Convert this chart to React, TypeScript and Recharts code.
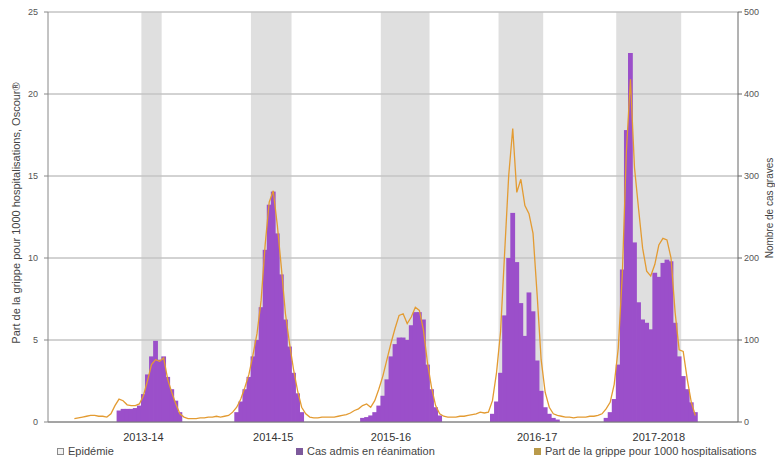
import React from 'react';
import {
  ComposedChart,
  Bar,
  Line,
  XAxis,
  YAxis,
  CartesianGrid,
  ReferenceArea,
} from 'recharts';

// ---- data -------------------------------------------------------------
const N_WEEKS = 170; // weekly slots on the x axis (surveillance weeks, 5 seasons)

const seasonLabels = ['2013-14', '2014-15', '2015-16', '2016-17', '2017-2018'];
const seasonLabelWeeks = [23, 55, 84, 120, 150];

// epidemic periods (week slots)
const epidemicStartWeeks = [23, 50, 82, 111, 140];
const epidemicEndWeeks = [27, 59, 93, 121, 155];

// weekly ICU admissions (right axis), first week slot of each season
const casesStartWeeks = [17, 46, 77, 109, 137];
const cases2013_14 = [14, 16, 16, 16, 17, 20, 34, 58, 80, 99, 76, 80, 55, 40, 26, 12];
const cases2014_15 = [12, 25, 40, 55, 80, 100, 140, 210, 265, 281, 230, 180, 125, 92, 60, 35, 12];
const cases2015_16 = [5, 6, 8, 12, 20, 32, 52, 80, 95, 103, 103, 100, 118, 134, 134, 125, 70, 40, 18, 8];
const cases2016_17 = [10, 25, 60, 130, 200, 255, 195, 145, 105, 158, 135, 75, 38, 18, 10, 5, 3];
const cases2017_18 = [5, 12, 28, 70, 186, 356, 450, 219, 146, 125, 121, 113, 182, 177, 194, 198, 196, 121, 80, 56, 40, 24, 12];

// share of flu per 1000 hospitalisations (left axis), first week slot of each segment
const shareStartWeeks = [6, 34, 64, 97, 126];
const share2013_14 = [0.2, 0.25, 0.3, 0.35, 0.4, 0.4, 0.35, 0.35, 0.3, 0.5, 1.0, 1.4, 1.3, 1.05, 1.0, 1.0, 1.1, 1.6, 2.5, 3.5, 3.8, 3.7, 3.9, 2.6, 1.8, 1.1, 0.5, 0.3];
const share2014_15 = [0.2, 0.2, 0.2, 0.25, 0.25, 0.3, 0.3, 0.35, 0.3, 0.35, 0.4, 0.6, 0.9, 1.4, 2.1, 2.9, 4.1, 5.4, 7.4, 10.8, 13.4, 14.1, 12.0, 9.4, 6.6, 4.8, 3.2, 1.9, 0.9, 0.5];
const share2015_16 = [0.3, 0.25, 0.25, 0.3, 0.3, 0.3, 0.3, 0.35, 0.4, 0.45, 0.55, 0.7, 0.8, 1.0, 1.1, 0.9, 1.3, 2.0, 2.8, 3.8, 4.8, 5.7, 6.5, 6.6, 6.0, 6.4, 7.0, 6.8, 5.6, 3.6, 2.1, 1.0, 0.5];
const share2016_17 = [0.35, 0.3, 0.3, 0.3, 0.35, 0.35, 0.4, 0.45, 0.5, 0.6, 0.55, 0.6, 1.3, 3.0, 5.5, 10.3, 15.0, 17.9, 14.0, 14.8, 13.2, 12.7, 11.5, 7.8, 3.8, 1.8, 0.9, 0.5, 0.4];
const share2017_18 = [0.35, 0.3, 0.3, 0.25, 0.3, 0.3, 0.3, 0.35, 0.35, 0.4, 0.5, 0.8, 1.2, 2.3, 4.5, 9.0, 16.5, 20.9, 15.5, 13.0, 10.6, 9.2, 8.9, 9.6, 10.8, 11.2, 11.1, 10.0, 6.7, 4.4, 4.3, 2.6, 1.2, 0.4];

const leftTicks = [0, 5, 10, 15, 20, 25];
const rightTicks = [0, 100, 200, 300, 400, 500];

const casesBySeason = [cases2013_14, cases2014_15, cases2015_16, cases2016_17, cases2017_18];
const shareBySeason = [share2013_14, share2014_15, share2015_16, share2016_17, share2017_18];

type Row = { week: number; cases: number | null; share: number | null };
const data: Row[] = Array.from({ length: N_WEEKS }, (_, week) => ({ week, cases: null, share: null }));
casesBySeason.forEach((arr, s) => arr.forEach((v, j) => { data[casesStartWeeks[s] + j].cases = v; }));
shareBySeason.forEach((arr, s) => arr.forEach((v, j) => { data[shareStartWeeks[s] + j].share = v; }));

// ---- styles -----------------------------------------------------------
const FONT = '"Liberation Sans", Arial, Helvetica, sans-serif';
const PURPLE = '#9b4fca';
const ORANGE = '#e39b32';

const LeftTitle = (props: any) => {
  const vb = props.viewBox || {};
  const x = vb.x + 8;
  const y = vb.y + vb.height / 2 - 4;
  return (
    <text x={x} y={y} transform={`rotate(-90 ${x} ${y})`} textAnchor="middle" dominantBaseline="central"
      fontSize={11} fill="#444" fontFamily={FONT}>
      Part de la grippe pour 1000 hospitalisations, Oscour®
    </text>
  );
};

const RightTitle = (props: any) => {
  const vb = props.viewBox || {};
  const x = vb.x + vb.width - 5;
  const y = vb.y + vb.height / 2 - 9;
  return (
    <text x={x} y={y} transform={`rotate(-90 ${x} ${y})`} textAnchor="middle" dominantBaseline="central"
      fontSize={10} fill="#444" fontFamily={FONT}>
      Nombre de cas graves
    </text>
  );
};

// contiguous histogram-like bars: widen each library-positioned bar slightly to hide seams
const HistBar = (p: any) => {
  if (p.height == null || p.width == null || !(p.height > 0)) return <g />;
  return <rect x={p.x - 0.4} y={p.y} width={p.width + 0.8} height={p.height} fill={PURPLE} />;
};

const legendItems = [
  { label: 'Epidémie', fill: '#f2f2f2', border: '#8a8a8a', left: 57 },
  { label: 'Cas admis en réanimation', fill: '#7d5a9c', border: '#7d5a9c', left: 296 },
  { label: 'Part de la grippe pour 1000 hospitalisations', fill: '#b99a4a', border: '#b99a4a', left: 534 },
];

export default function App() {
  return (
    <div style={{ position: 'absolute', left: 0, top: 0, width: 775, height: 459, background: '#fff', fontFamily: FONT }}>
      <ComposedChart
        width={775}
        height={459}
        data={data}
        margin={{ top: 12, right: 1, bottom: 17, left: 8 }}
        barCategoryGap={0}
        barGap={0}
      >
        <CartesianGrid yAxisId="left" vertical={false} stroke="#a6a6a6" />
        <XAxis
          dataKey="week"
          type="category"
          ticks={seasonLabelWeeks}
          interval={0}
          tickFormatter={(w: number) => seasonLabels[seasonLabelWeeks.indexOf(w)] ?? ''}
          tickLine={false}
          axisLine={{ stroke: '#777' }}
          tick={{ fontSize: 11, fill: '#333', fontFamily: FONT }}
          tickMargin={5}
          height={20}
        />
        <YAxis
          yAxisId="left"
          domain={[0, 25]}
          ticks={leftTicks}
          width={40}
          tickSize={4}
          tickMargin={6}
          axisLine={{ stroke: '#888' }}
          tickLine={{ stroke: '#888' }}
          tick={{ fontSize: 9, fill: '#555', fontFamily: FONT }}
          label={<LeftTitle />}
        />
        <YAxis
          yAxisId="right"
          orientation="right"
          domain={[0, 500]}
          ticks={rightTicks}
          width={36}
          tickSize={4}
          tickMargin={2}
          axisLine={{ stroke: '#666' }}
          tickLine={{ stroke: '#666' }}
          tick={{ fontSize: 9, fill: '#555', fontFamily: FONT }}
          label={<RightTitle />}
        />
        {epidemicStartWeeks.map((start, i) => (
          <ReferenceArea
            key={i}
            yAxisId="left"
            x1={start}
            x2={epidemicEndWeeks[i]}
            y1={0}
            y2={25}
            fill="#c4c4c4"
            fillOpacity={0.55}
            stroke="none"
          />
        ))}
        <Bar yAxisId="right" dataKey="cases" fill={PURPLE} barSize={4} shape={HistBar} isAnimationActive={false} />
        <Line
          yAxisId="left"
          type="linear"
          dataKey="share"
          stroke={ORANGE}
          strokeWidth={1.3}
          dot={false}
          activeDot={false}
          isAnimationActive={false}
        />
      </ComposedChart>
      {legendItems.map((it) => (
        <div
          key={it.label}
          style={{
            position: 'absolute',
            left: it.left,
            top: 444,
            height: 14,
            display: 'flex',
            alignItems: 'center',
            fontSize: 11,
            color: '#444',
            whiteSpace: 'nowrap',
          }}
        >
          <span style={{ display: 'inline-block', width: 5, height: 5, background: it.fill, border: `1px solid ${it.border}`, marginRight: 4 }} />
          {it.label}
        </div>
      ))}
    </div>
  );
}
